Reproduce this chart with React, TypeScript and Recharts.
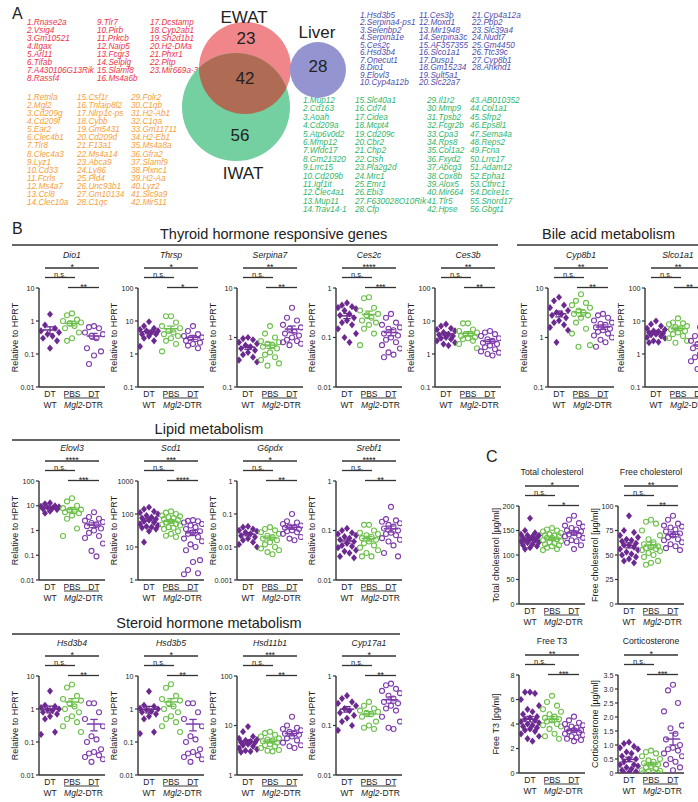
import React from 'react';
import { ScatterChart, Scatter, XAxis, YAxis, ReferenceLine } from 'recharts';

const FONT = '"Liberation Sans", Arial, Helvetica, sans-serif';
const PURPLE = '#6c2a90';
const PURPLE_OPEN = '#7e3bab';
const GREEN = '#6cc04a';
const AXIS = '#333333';
const TXT = '#222222';

// ---------- Panel A data ----------
const vennSets = ['EWAT', 'IWAT', 'Liver'];
const vennCounts = [23, 42, 56, 28]; // EWAT only, EWAT∩IWAT, IWAT only, Liver

const ewatGenes = ['Rnase2a', 'Vsig4', 'Gm10521', 'Itgax', 'Arl11', 'Tifab', 'A430106G13Rik', 'Rassf4',
  'Tlr7', 'Pirb', 'Prkcb', 'Naip5', 'Fcgr3', 'Selplg', 'Slamf8', 'Ms4a6b',
  'Dcstamp', 'Cyp2ab1', 'Sh2d1b1', 'H2-DMa', 'Phxr1', 'Pltp', 'Mir669a-3'];
const sharedGenes = ['Retnla', 'Mgl2', 'Cd209g', 'Cd209f', 'Ear2', 'Clec4b1', 'Tlr8', 'Clec4a3', 'Lyz1', 'Cd33', 'Fcrls', 'Ms4a7', 'Ccl8', 'Clec10a',
  'Csf1r', 'Tnfaip8l2', 'Nlrp1c-ps', 'Cybb', 'Gm5431', 'Cd209d', 'F13a1', 'Ms4a14', 'Abca9', 'Ly86', 'Pld4', 'Unc93b1', 'Gm10134', 'C1qc',
  'Folr2', 'C1qb', 'H2-Ab1', 'C1qa', 'Gm11711', 'H2-Eb1', 'Ms4a8a', 'Gfra2', 'Slamf9', 'Plxnc1', 'H2-Aa', 'Lyz2', 'Slc9a9', 'Mir511'];
const liverGenes = ['Hsd3b5', 'Serpina4-ps1', 'Selenbp2', 'Serpina1e', 'Ces2c', 'Hsd3b4', 'Onecut1', 'Dio1', 'Elovl3', 'Cyp4a12b',
  'Ces3b', 'Moxd1', 'Mir1948', 'Serpina3c', 'AF357355', 'Slco1a1', 'Dusp1', 'Gm15234', 'Sult5a1', 'Slc22a7',
  'Cyp4a12a', 'Pbp2', 'Slc39a4', 'Nudt7', 'Gm4450', 'Ttc39c', 'Cyp8b1', 'Ankhd1'];
const iwatGenes = ['Mup12', 'Cd163', 'Aoah', 'Cd209a', 'Atp6v0d2', 'Mmp12', 'Wfdc17', 'Gm21320', 'Lrrc15', 'Cd209b', 'Igf1it', 'Clec4a1', 'Mup11', 'Trav14-1',
  'Slc40a1', 'Cd74', 'Cidea', 'Mcpt4', 'Cd209c', 'Cbr2', 'Chp2', 'Ctsh', 'Pla2g2d', 'Mrc1', 'Emr1', 'Ebi3', 'F630028O10Rik', 'Cfp',
  'Il1r2', 'Mmp9', 'Tpsb2', 'Fcgr2b', 'Cpa3', 'Rps8', 'Col1a2', 'Fxyd2', 'Abcg3', 'Cox8b', 'Alox5', 'Mir664', 'Tlr5', 'Hpse',
  'AB010352', 'Col1a1', 'Sfrp2', 'Eps8l1', 'Sema4a', 'Reps2', 'Fcna', 'Lrrc17', 'Adam12', 'Epha1', 'Cthrc1', 'Dclre1c', 'Snord17', 'Gbgt1'];

// ---------- Panel B/C data ----------
const groupRow1 = ['DT', 'PBS', 'DT'];
const groupRow2 = ['WT', 'Mgl2-DTR'];

const dio1WT = [1.6, 0.75, 0.6, 0.5, 0.45, 0.4, 0.35, 0.3, 0.25, 0.15];
const dio1PBS = [1.7, 1.5, 1.1, 1.0, 0.9, 0.85, 0.7, 0.6, 0.45, 0.3, 0.25];
const dio1DT = [0.7, 0.65, 0.6, 0.45, 0.4, 0.35, 0.3, 0.15, 0.12, 0.09, 0.05];
const dio1Sig = ['*', 'n.s.', '**'];

const thrspWT = [9.5, 7, 6, 5.5, 5, 5, 4.5, 4, 4, 3.5, 3, 2.5, 1.7];
const thrspPBS = [14, 14, 9, 7, 6, 5, 4.5, 4, 3.5, 3, 2.5, 2, 1.2];
const thrspDT = [7, 5, 4, 3.5, 3.2, 3, 2.8, 2.5, 2.2, 2, 1.8, 1.5];
const thrspSig = ['*', 'n.s.', '*'];

const serpina7WT = [1.0, 0.95, 0.9, 0.8, 0.75, 0.7, 0.65, 0.6, 0.55, 0.5, 0.45, 0.4, 0.35, 0.32];
const serpina7PBS = [1.7, 1.2, 1.0, 0.85, 0.8, 0.75, 0.7, 0.65, 0.6, 0.5, 0.45, 0.4, 0.35, 0.3, 0.27];
const serpina7DT = [4.0, 2.5, 2.2, 1.8, 1.6, 1.5, 1.3, 1.2, 1.1, 1.0, 0.9, 0.85, 0.8, 0.75, 0.7];
const serpina7Sig = ['**', 'n.s.', '**'];

const ces2cWT = [0.5, 0.45, 0.42, 0.4, 0.38, 0.35, 0.3, 0.28, 0.25, 0.22, 0.2, 0.18, 0.15, 0.12, 0.1, 0.08];
const ces2cPBS = [0.65, 0.62, 0.4, 0.35, 0.3, 0.28, 0.25, 0.22, 0.2, 0.18, 0.15, 0.12, 0.07];
const ces2cDT = [0.3, 0.25, 0.2, 0.18, 0.16, 0.15, 0.14, 0.12, 0.11, 0.1, 0.09, 0.08, 0.07, 0.06, 0.05, 0.045, 0.04];
const ces2cSig = ['****', 'n.s.', '***'];

const ces3bWT = [8, 7, 6, 5.5, 5, 4.5, 4, 3.8, 3.5, 3.2, 3, 2.8, 2.5, 2.2, 2, 1.8];
const ces3bPBS = [8.5, 8.5, 5.5, 5, 4.5, 4, 4, 3.5, 3.2, 3, 2.8, 2.5, 2, 1.5];
const ces3bDT = [5, 4.5, 4, 3.5, 3, 2.8, 2.5, 2.2, 2, 1.8, 1.6, 1.4, 1.2, 1.1, 1.0, 0.9];
const ces3bSig = ['**', 'n.s.', '**'];

const cyp8b1WT = [6.5, 5.5, 4.5, 4, 3.5, 3.2, 3, 2.8, 2.5, 2.2, 2, 1.8, 1.6, 1.4, 0.8];
const cyp8b1PBS = [7.5, 5.5, 5, 4.5, 4, 3.5, 3.2, 3, 2.8, 2.5, 2, 1.5, 1.2, 0.7, 0.65];
const cyp8b1DT = [3, 2.8, 2.5, 2.2, 2, 1.9, 1.8, 1.6, 1.5, 1.4, 1.3, 1.2, 1.1, 1.0, 0.9, 0.8, 0.65];
const cyp8b1Sig = ['**', 'n.s.', '**'];

const slco1a1WT = [10, 8, 7, 6, 5.5, 5, 4.8, 4.5, 4.2, 4, 3.8, 3.5, 3.2, 3, 2.5, 2.3, 2.2];
const slco1a1PBS = [12, 9, 8.5, 8, 7, 6.5, 6, 5.5, 5, 4.5, 4, 3.5, 3, 2.5, 2.2];
const slco1a1DT = [6.5, 3.5, 3, 2.5, 2.2, 2, 1.8, 1.5, 1.2, 1.0, 0.8, 0.7, 0.6, 0.5, 0.35];
const slco1a1Sig = ['**', 'n.s.', '**'];

const elovl3WT = [13, 12, 10, 9.5, 9, 8.5, 8, 7.5, 7, 6, 5];
const elovl3PBS = [20, 15, 10, 8, 7, 6.5, 6, 5.5, 5, 4, 3, 1.2, 0.6];
const elovl3DT = [5.5, 3.5, 3, 2.5, 2.2, 2, 1.8, 1.5, 1.2, 1, 0.8, 0.6, 0.5, 0.3, 0.15, 0.09];
const elovl3Sig = ['****', 'n.s.', '***'];

const scd1WT = [160, 140, 120, 110, 100, 90, 80, 75, 70, 65, 60, 55, 50, 45, 42, 40, 38, 35, 30, 14];
const scd1PBS = [120, 110, 100, 90, 85, 80, 75, 70, 65, 60, 55, 50, 48, 45, 40, 38, 35, 30, 25, 22, 20];
const scd1DT = [65, 62, 60, 55, 50, 45, 40, 35, 30, 28, 25, 20, 18, 15, 12, 10, 8, 4, 3.5, 2, 1.6, 1.5];
const scd1Sig = ['***', 'n.s.', '****'];

const g6pdxWT = [0.042, 0.04, 0.035, 0.032, 0.03, 0.028, 0.025, 0.022, 0.02, 0.018, 0.016, 0.014, 0.012, 0.01];
const g6pdxPBS = [0.04, 0.035, 0.032, 0.028, 0.025, 0.022, 0.02, 0.018, 0.016, 0.014, 0.012, 0.01, 0.009, 0.008, 0.007, 0.006];
const g6pdxDT = [0.1, 0.06, 0.055, 0.05, 0.045, 0.042, 0.04, 0.038, 0.035, 0.032, 0.03, 0.028, 0.025, 0.02, 0.018, 0.016];
const g6pdxSig = ['*', 'n.s.', '**'];

const srebf1WT = [0.11, 0.1, 0.09, 0.085, 0.08, 0.075, 0.07, 0.065, 0.06, 0.055, 0.05, 0.048, 0.045, 0.04, 0.038, 0.035, 0.03, 0.028];
const srebf1PBS = [0.13, 0.13, 0.1, 0.09, 0.085, 0.08, 0.075, 0.07, 0.065, 0.06, 0.055, 0.05, 0.045, 0.04, 0.035, 0.03, 0.03];
const srebf1DT = [0.3, 0.17, 0.16, 0.15, 0.14, 0.13, 0.12, 0.11, 0.1, 0.09, 0.085, 0.08, 0.07, 0.065, 0.06, 0.05, 0.035, 0.03];
const srebf1Sig = ['****', 'n.s.', '**'];

const hsd3b4WT = [3.5, 1.3, 1.2, 1.1, 1.0, 0.95, 0.9, 0.8, 0.7, 0.6, 0.5, 0.2, 0.17];
const hsd3b4PBS = [5.5, 4.5, 2.5, 2, 1.8, 1.5, 1.2, 1.0, 0.8, 0.6, 0.5, 0.4, 0.3, 0.2];
const hsd3b4DT = [1.5, 1.5, 0.8, 0.5, 0.3, 0.15, 0.12, 0.1, 0.06, 0.05, 0.045, 0.04, 0.035, 0.03, 0.025];
const hsd3b4Sig = ['*', 'n.s.', '**'];

const hsd3b5WT = [3.4, 1.3, 1.2, 1.05, 1.0, 0.95, 0.85, 0.8, 0.7, 0.6, 0.5, 0.2, 0.18];
const hsd3b5PBS = [5.6, 4.4, 2.5, 2, 1.8, 1.5, 1.2, 1.0, 0.8, 0.6, 0.5, 0.4, 0.3, 0.2];
const hsd3b5DT = [1.5, 1.5, 0.8, 0.5, 0.3, 0.15, 0.12, 0.1, 0.06, 0.05, 0.045, 0.04, 0.035, 0.03, 0.025];
const hsd3b5Sig = ['*', 'n.s.', '**'];

const hsd11b1WT = [9.5, 7.5, 6, 5.5, 5.2, 5, 4.8, 4.6, 4.5, 4.2, 4, 3.8, 3.5, 3.3, 3.1, 3, 2.9];
const hsd11b1PBS = [7.5, 7, 6.5, 6, 5.5, 5.2, 5, 4.8, 4.5, 4.2, 4, 3.8, 3.5, 3.2, 3.1, 3];
const hsd11b1DT = [15, 10, 9, 8.5, 8, 7.5, 7, 6.8, 6.5, 6, 5.5, 5, 4.5, 4, 3.8, 3.5];
const hsd11b1Sig = ['***', 'n.s.', '**'];

const cyp17a1WT = [0.4, 0.35, 0.3, 0.28, 0.25, 0.22, 0.2, 0.18, 0.16, 0.14, 0.12, 0.1, 0.08];
const cyp17a1PBS = [0.3, 0.25, 0.22, 0.2, 0.19, 0.18, 0.17, 0.15, 0.12, 0.1, 0.09, 0.085];
const cyp17a1DT = [0.7, 0.65, 0.55, 0.5, 0.45, 0.4, 0.35, 0.3, 0.28, 0.25, 0.22, 0.2, 0.15, 0.12, 0.09, 0.085];
const cyp17a1Sig = ['*', 'n.s.', '**'];

const tcholWT = [175, 150, 145, 142, 140, 140, 138, 135, 135, 132, 130, 130, 128, 126, 125, 122, 120, 118, 115, 112];
const tcholPBS = [155, 152, 150, 148, 145, 142, 140, 140, 138, 135, 135, 132, 130, 128, 126, 124, 122, 120, 118, 115, 112, 110];
const tcholDT = [180, 172, 165, 160, 158, 155, 152, 150, 148, 145, 142, 140, 138, 135, 130, 128, 125, 120, 112];
const tcholSig = ['*', 'n.s.', '*'];

const fcholWT = [90, 75, 73, 70, 68, 66, 65, 64, 62, 60, 60, 58, 56, 55, 53, 51, 50, 48, 46, 44, 42];
const fcholPBS = [86, 84, 82, 75, 70, 66, 63, 61, 59, 58, 57, 56, 55, 54, 52, 50, 48, 44, 42, 40];
const fcholDT = [90, 86, 82, 80, 79, 78, 76, 74, 72, 70, 68, 66, 65, 63, 61, 59, 57, 55];
const fcholSig = ['**', 'n.s.', '**'];

const t3WT = [6.6, 6.6, 6.5, 6.0, 5.5, 5.2, 5.0, 4.8, 4.6, 4.5, 4.4, 4.3, 4.2, 4.1, 4.0, 3.9, 3.8, 3.7, 3.6, 3.5, 3.4, 3.2, 3.0, 2.8, 2.6];
const t3PBS = [6.3, 5.8, 5.5, 5.2, 5.0, 4.8, 4.6, 4.5, 4.4, 4.3, 4.2, 4.0, 3.9, 3.8, 3.6, 3.2, 3.0, 2.8];
const t3DT = [4.6, 4.3, 4.1, 4.0, 3.9, 3.8, 3.7, 3.6, 3.5, 3.5, 3.4, 3.3, 3.2, 3.1, 3.0, 2.9, 2.8, 2.7, 2.6];
const t3Sig = ['**', 'n.s.', '***'];

const corWT = [1.1, 1.05, 0.95, 0.9, 0.85, 0.75, 0.7, 0.6, 0.5, 0.5, 0.4, 0.3, 0.3, 0.25, 0.2, 0.15, 0.1, 0.05, 0.02, 0.01];
const corPBS = [0.8, 0.75, 0.7, 0.6, 0.5, 0.45, 0.4, 0.35, 0.3, 0.25, 0.2, 0.15, 0.1, 0.08, 0.05, 0.03, 0.02, 0.01];
const corDT = [3.15, 2.95, 2.5, 2.2, 1.7, 1.6, 1.4, 1.2, 1.0, 0.9, 0.85, 0.8, 0.7, 0.6, 0.5, 0.4, 0.3, 0.2, 0.1];
const corSig = ['*', 'n.s.', '***'];

const ticks001_10 = [0.01, 0.1, 1, 10];
const ticks01_100 = [0.1, 1, 10, 100];
const ticks01_10 = [0.1, 1, 10];
const ticks001_1 = [0.01, 0.1, 1];
const ticks001_100 = [0.01, 0.1, 1, 10, 100];
const ticks1_1000 = [1, 10, 100, 1000];
const ticks0001_1 = [0.001, 0.01, 0.1, 1];
const ticks1_100 = [1, 10, 100];
const ticksTchol = [0, 50, 100, 150, 200];
const ticksFchol = [0, 25, 50, 75, 100];
const ticksT3 = [0, 2, 4, 6, 8];
const ticksCor = [0, 0.5, 1, 1.5, 2, 2.5, 3, 3.5];

// ---------- layout ----------
const Y_W = 40;
const PLOT_W = 66;
const M_T = 6;
const M_R = 8;
const X_H = 26;
const X_DOM: [number, number] = [-0.5, 2.5];
const PX_PER_G = PLOT_W / (X_DOM[1] - X_DOM[0]);
const gx = (ax: number, g: number) => ax + (g - X_DOM[0]) * PX_PER_G;
const JIT = [0, -5, 5, -9, 9, -2.5, 2.5, -7, 7];

const R1 = [288, 387];
const R2 = [481, 580];
const R3 = [676, 775];
const C1 = [506, 604];
const C2 = [675, 773];

type Spec = {
  title: string; italic: boolean; wt: number[]; pbs: number[]; dt: number[]; sig: string[];
  log: boolean; ticks: number[]; ylabel: string; ax: number; row: number[]; fmt?: (v: number) => string;
};

const HPRT = 'Relative to HPRT';
const corFmt = (v: number) => (v === 0 ? '0' : v.toFixed(1));

const specs: Spec[] = [
  { title: 'Dio1', italic: true, wt: dio1WT, pbs: dio1PBS, dt: dio1DT, sig: dio1Sig, log: true, ticks: ticks001_10, ylabel: HPRT, ax: 39, row: R1 },
  { title: 'Thrsp', italic: true, wt: thrspWT, pbs: thrspPBS, dt: thrspDT, sig: thrspSig, log: true, ticks: ticks01_100, ylabel: HPRT, ax: 138, row: R1 },
  { title: 'Serpina7', italic: true, wt: serpina7WT, pbs: serpina7PBS, dt: serpina7DT, sig: serpina7Sig, log: true, ticks: ticks01_10, ylabel: HPRT, ax: 237, row: R1 },
  { title: 'Ces2c', italic: true, wt: ces2cWT, pbs: ces2cPBS, dt: ces2cDT, sig: ces2cSig, log: true, ticks: ticks001_1, ylabel: HPRT, ax: 336, row: R1 },
  { title: 'Ces3b', italic: true, wt: ces3bWT, pbs: ces3bPBS, dt: ces3bDT, sig: ces3bSig, log: true, ticks: ticks01_100, ylabel: HPRT, ax: 435, row: R1 },
  { title: 'Cyp8b1', italic: true, wt: cyp8b1WT, pbs: cyp8b1PBS, dt: cyp8b1DT, sig: cyp8b1Sig, log: true, ticks: ticks01_10, ylabel: HPRT, ax: 548, row: R1 },
  { title: 'Slco1a1', italic: true, wt: slco1a1WT, pbs: slco1a1PBS, dt: slco1a1DT, sig: slco1a1Sig, log: true, ticks: ticks01_100, ylabel: HPRT, ax: 645, row: R1 },
  { title: 'Elovl3', italic: true, wt: elovl3WT, pbs: elovl3PBS, dt: elovl3DT, sig: elovl3Sig, log: true, ticks: ticks001_100, ylabel: HPRT, ax: 39, row: R2 },
  { title: 'Scd1', italic: true, wt: scd1WT, pbs: scd1PBS, dt: scd1DT, sig: scd1Sig, log: true, ticks: ticks1_1000, ylabel: HPRT, ax: 138, row: R2 },
  { title: 'G6pdx', italic: true, wt: g6pdxWT, pbs: g6pdxPBS, dt: g6pdxDT, sig: g6pdxSig, log: true, ticks: ticks0001_1, ylabel: HPRT, ax: 237, row: R2 },
  { title: 'Srebf1', italic: true, wt: srebf1WT, pbs: srebf1PBS, dt: srebf1DT, sig: srebf1Sig, log: true, ticks: ticks001_1, ylabel: HPRT, ax: 336, row: R2 },
  { title: 'Hsd3b4', italic: true, wt: hsd3b4WT, pbs: hsd3b4PBS, dt: hsd3b4DT, sig: hsd3b4Sig, log: true, ticks: ticks001_10, ylabel: HPRT, ax: 39, row: R3 },
  { title: 'Hsd3b5', italic: true, wt: hsd3b5WT, pbs: hsd3b5PBS, dt: hsd3b5DT, sig: hsd3b5Sig, log: true, ticks: ticks001_10, ylabel: HPRT, ax: 138, row: R3 },
  { title: 'Hsd11b1', italic: true, wt: hsd11b1WT, pbs: hsd11b1PBS, dt: hsd11b1DT, sig: hsd11b1Sig, log: true, ticks: ticks1_100, ylabel: HPRT, ax: 237, row: R3 },
  { title: 'Cyp17a1', italic: true, wt: cyp17a1WT, pbs: cyp17a1PBS, dt: cyp17a1DT, sig: cyp17a1Sig, log: true, ticks: ticks001_1, ylabel: HPRT, ax: 336, row: R3 },
  { title: 'Total cholesterol', italic: false, wt: tcholWT, pbs: tcholPBS, dt: tcholDT, sig: tcholSig, log: false, ticks: ticksTchol, ylabel: 'Total cholesterol [µg/ml]', ax: 519, row: C1 },
  { title: 'Free cholesterol', italic: false, wt: fcholWT, pbs: fcholPBS, dt: fcholDT, sig: fcholSig, log: false, ticks: ticksFchol, ylabel: 'Free cholesterol [µg/ml]', ax: 618, row: C1 },
  { title: 'Free T3', italic: false, wt: t3WT, pbs: t3PBS, dt: t3DT, sig: t3Sig, log: false, ticks: ticksT3, ylabel: 'Free T3 [pg/ml]', ax: 519, row: C2 },
  { title: 'Corticosterone', italic: false, wt: corWT, pbs: corPBS, dt: corDT, sig: corSig, log: false, ticks: ticksCor, ylabel: 'Corticosterone [µg/ml]', ax: 618, row: C2, fmt: corFmt },
];

const mean = (a: number[]) => a.reduce((s, v) => s + v, 0) / a.length;
const sem = (a: number[]) => {
  const m = mean(a);
  const sd = Math.sqrt(a.reduce((s, v) => s + (v - m) * (v - m), 0) / (a.length - 1));
  return sd / Math.sqrt(a.length);
};

const Diamond = (props: any) => {
  const { cx, cy, payload } = props;
  if (cx == null || cy == null) return null;
  const x = cx + JIT[payload.i % JIT.length];
  return <polygon points={`${x},${cy - 3.6} ${x + 3},${cy} ${x},${cy + 3.6} ${x - 3},${cy}`} fill={PURPLE} />;
};
const makeCircle = (color: string) => (props: any) => {
  const { cx, cy, payload } = props;
  if (cx == null || cy == null) return null;
  const x = cx + JIT[payload.i % JIT.length];
  return <circle cx={x} cy={cy} r={2.5} fill="none" stroke={color} strokeWidth={1.1} />;
};
const GreenCircle = makeCircle(GREEN);
const PurpleCircle = makeCircle(PURPLE_OPEN);

const XTick = (props: any) => {
  const { x, y, payload } = props;
  const g = payload.value;
  const fs = 8.5;
  const common = { textAnchor: 'middle' as const, fontSize: fs, fill: TXT, fontFamily: FONT };
  if (g === 0) {
    return (
      <g>
        <text x={x} y={y + 9.5} {...common}>{groupRow1[0]}</text>
        <text x={x} y={y + 20.5} {...common}>{groupRow2[0]}</text>
      </g>
    );
  }
  if (g === 1) {
    const [italicPart, rest] = groupRow2[1].split('-');
    return (
      <g>
        <text x={x} y={y + 9.5} {...common}>{groupRow1[1]}</text>
        <line x1={x - 8} x2={x + PX_PER_G + 5} y1={y + 11} y2={y + 11} stroke={TXT} strokeWidth={0.9} />
        <text x={x + PX_PER_G / 2 + 0.5} y={y + 20.5} {...common}>
          <tspan fontStyle="italic">{italicPart}</tspan>-{rest}
        </text>
      </g>
    );
  }
  return <text x={x} y={y + 9.5} {...common}>{groupRow1[2]}</text>;
};

function Plot({ s }: { s: Spec }) {
  const [yTop, yBot] = s.row;
  const plotH = yBot - yTop;
  const groups = [s.wt, s.pbs, s.dt];
  const data = groups.map((vals, g) => vals.map((v, i) => ({ x: g, y: v, i })));
  const colors = [PURPLE, GREEN, PURPLE_OPEN];
  const shapes = [Diamond, GreenCircle, PurpleCircle];
  const domain: [number, number] = [s.ticks[0], s.ticks[s.ticks.length - 1]];
  const fmt = s.fmt || ((v: number) => String(v));
  const refs: any[] = [];
  groups.forEach((vals, g) => {
    const m = mean(vals);
    const e = sem(vals);
    const lo = Math.max(m - e, domain[0] === 0 ? 0 : domain[0]);
    const hi = m + e;
    const c = colors[g];
    refs.push(<ReferenceLine key={`m${g}`} segment={[{ x: g - 0.33, y: m }, { x: g + 0.33, y: m }]} stroke={c} strokeWidth={1.5} ifOverflow="visible" />);
    refs.push(<ReferenceLine key={`v${g}`} segment={[{ x: g, y: lo }, { x: g, y: hi }]} stroke={c} strokeWidth={1.3} ifOverflow="visible" />);
    refs.push(<ReferenceLine key={`h${g}`} segment={[{ x: g - 0.17, y: hi }, { x: g + 0.17, y: hi }]} stroke={c} strokeWidth={1.3} ifOverflow="visible" />);
    refs.push(<ReferenceLine key={`l${g}`} segment={[{ x: g - 0.17, y: lo }, { x: g + 0.17, y: lo }]} stroke={c} strokeWidth={1.3} ifOverflow="visible" />);
  });
  return (
    <div style={{ position: 'absolute', left: s.ax - Y_W, top: yTop - M_T }}>
      <ScatterChart width={Y_W + PLOT_W + M_R} height={M_T + plotH + X_H} margin={{ top: M_T, right: M_R, bottom: 0, left: 0 }}>
        <XAxis type="number" dataKey="x" domain={X_DOM} ticks={[0, 1, 2]} interval={0} height={X_H}
          tickLine={false} tickSize={0} tickMargin={0} tick={(p: any) => <XTick {...p} />}
          axisLine={{ stroke: AXIS, strokeWidth: 1.4 }} allowDataOverflow />
        <YAxis type="number" dataKey="y" scale={s.log ? 'log' : 'linear'} domain={domain} ticks={s.ticks} interval={0}
          width={Y_W} tickSize={3} tickMargin={1.5} tickFormatter={fmt}
          tick={{ fontSize: 7.2, fill: TXT, fontFamily: FONT }}
          tickLine={{ stroke: AXIS, strokeWidth: 1.2 }} axisLine={{ stroke: AXIS, strokeWidth: 1.4 }} allowDataOverflow />
        {data.map((d, g) => (
          <Scatter key={g} data={d} shape={shapes[g]} isAnimationActive={false} />
        ))}
        {refs}
      </ScatterChart>
    </div>
  );
}

function Annotations({ s }: { s: Spec }) {
  const [yTop, yBot] = s.row;
  const cx = s.ax + PLOT_W / 2;
  const g0 = gx(s.ax, 0), g1 = gx(s.ax, 1), g2 = gx(s.ax, 2);
  const bars = [
    { x1: g0 - 5, x2: g2 + 5, y: yTop - 20, t: s.sig[0] },
    { x1: g0 - 5, x2: g1 + 3, y: yTop - 10.5, t: s.sig[1] },
    { x1: g1 - 4, x2: g2 + 5, y: yTop - 0.5, t: s.sig[2] },
  ];
  const yMid = (yTop + yBot) / 2;
  const lx = s.ax - (s.italic ? 21 : 20);
  return (
    <g>
      <text x={cx} y={yTop - (s.italic ? 30 : 31)} textAnchor="middle" fontSize={8.7} fontStyle={s.italic ? 'italic' : 'normal'} fill={TXT}>{s.title}</text>
      {bars.map((b, k) => (
        <g key={k}>
          <line x1={b.x1} x2={b.x2} y1={b.y} y2={b.y} stroke={AXIS} strokeWidth={1.3} />
          {b.t === 'n.s.' ? (
            <text x={(b.x1 + b.x2) / 2} y={b.y - 1} textAnchor="middle" fontSize={7.5} fill={TXT}>{b.t}</text>
          ) : (
            <text x={(b.x1 + b.x2) / 2} y={b.y + 2.2} textAnchor="middle" fontSize={9} fill={TXT} letterSpacing={-0.3}>{b.t}</text>
          )}
        </g>
      ))}
      <text x={lx} y={yMid} transform={`rotate(-90 ${lx} ${yMid})`} textAnchor="middle" fontSize={9} fill={TXT}>{s.ylabel}</text>
    </g>
  );
}

function GeneList({ genes, x0, y0, colDx, rows, dy, color }: { genes: string[]; x0: number; y0: number; colDx: number[]; rows: number; dy: number; color: string }) {
  return (
    <g fill={color} fontSize={8.2} fontStyle="italic">
      {genes.map((g, i) => {
        const c = Math.floor(i / rows);
        const r = i % rows;
        return <text key={i} x={x0 + colDx[c]} y={y0 + r * dy}>{`${i + 1}.${g}`}</text>;
      })}
    </g>
  );
}

function Venn() {
  return (
    <g>
      <defs>
        <clipPath id="iwatClip"><circle cx={236} cy={107} r={54} /></clipPath>
      </defs>
      <circle cx={245} cy={68} r={46} fill="#f1868a" />
      <circle cx={236} cy={107} r={54} fill="#74cfa1" />
      <circle cx={245} cy={68} r={46} fill="#b06b55" clipPath="url(#iwatClip)" />
      <circle cx={318} cy={70} r={28} fill="#9494d0" />
      <g fontSize={17} fill={TXT} textAnchor="middle">
        <text x={244} y={23}>{vennSets[0]}</text>
        <text x={243} y={179}>{vennSets[1]}</text>
        <text x={317} y={38}>{vennSets[2]}</text>
        <text x={246} y={44}>{vennCounts[0]}</text>
        <text x={245} y={84}>{vennCounts[1]}</text>
        <text x={240} y={141}>{vennCounts[2]}</text>
        <text x={318} y={72}>{vennCounts[3]}</text>
      </g>
    </g>
  );
}

export default function App() {
  return (
    <div style={{ position: 'absolute', left: 0, top: 0, width: 698, height: 802, overflow: 'hidden', background: '#fff', fontFamily: FONT }}>
      {specs.map((s, k) => <Plot key={k} s={s} />)}
      <svg width={698} height={802} style={{ position: 'absolute', left: 0, top: 0, pointerEvents: 'none' }} fontFamily={FONT}>
        <g fontSize={16} fill={TXT}>
          <text x={12} y={19}>A</text>
          <text x={12} y={234}>B</text>
          <text x={486} y={462}>C</text>
        </g>
        <GeneList genes={ewatGenes} x0={27} y0={25} colDx={[0, 70, 123]} rows={8} dy={8} color="#ec3347" />
        <GeneList genes={sharedGenes} x0={27} y0={100} colDx={[0, 50, 104]} rows={14} dy={8.08} color="#f4a13a" />
        <GeneList genes={liverGenes} x0={360} y0={18} colDx={[0, 59, 112]} rows={10} dy={7.44} color="#4f4fae" />
        <GeneList genes={iwatGenes} x0={303} y0={103} colDx={[0, 52, 124, 167]} rows={14} dy={8.4} color="#2fb56c" />
        <Venn />
        <g fontSize={14.5} fill={TXT}>
          <text x={160} y={239}>Thyroid hormone responsive genes</text>
          <text x={542} y={239}>Bile acid metabolism</text>
          <text x={209} y={434} textAnchor="middle">Lipid metabolism</text>
          <text x={209} y={628} textAnchor="middle">Steroid hormone metabolism</text>
        </g>
        <g stroke={AXIS} strokeWidth={1.3}>
          <line x1={12} x2={498} y1={245} y2={245} />
          <line x1={517} x2={698} y1={245} y2={245} />
          <line x1={12} x2={400} y1={440} y2={440} />
          <line x1={12} x2={400} y1={634} y2={634} />
        </g>
        {specs.map((s, k) => <Annotations key={k} s={s} />)}
      </svg>
    </div>
  );
}
